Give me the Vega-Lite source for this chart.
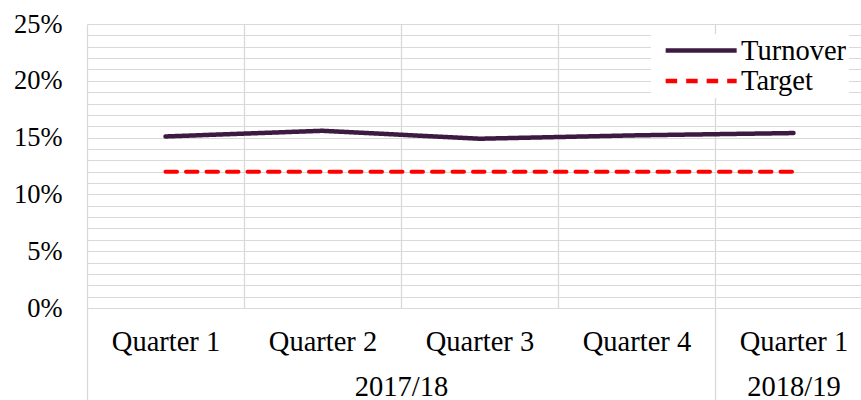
{
  "$schema": "https://vega.github.io/schema/vega-lite/v6.json",
  "autosize": {"type": "none"},
  "width": 774,
  "height": 284,
  "padding": {"left": 87, "top": 24, "right": 0, "bottom": 92},
  "background": "white",
  "config": {"font": "Liberation Serif", "view": {"stroke": null}},
  "data": {
    "values": [
      {"year": "2017/18", "quarter": "Quarter 1", "pos": 0.5, "series": "Turnover", "value": 0.151},
      {"year": "2017/18", "quarter": "Quarter 2", "pos": 1.5, "series": "Turnover", "value": 0.156},
      {"year": "2017/18", "quarter": "Quarter 3", "pos": 2.5, "series": "Turnover", "value": 0.149},
      {"year": "2017/18", "quarter": "Quarter 4", "pos": 3.5, "series": "Turnover", "value": 0.152},
      {"year": "2018/19", "quarter": "Quarter 1", "pos": 4.5, "series": "Turnover", "value": 0.154},
      {"year": "2017/18", "quarter": "Quarter 1", "pos": 0.5, "series": "Target", "value": 0.12},
      {"year": "2017/18", "quarter": "Quarter 2", "pos": 1.5, "series": "Target", "value": 0.12},
      {"year": "2017/18", "quarter": "Quarter 3", "pos": 2.5, "series": "Target", "value": 0.12},
      {"year": "2017/18", "quarter": "Quarter 4", "pos": 3.5, "series": "Target", "value": 0.12},
      {"year": "2018/19", "quarter": "Quarter 1", "pos": 4.5, "series": "Target", "value": 0.12}
    ]
  },
  "encoding": {
    "y": {
      "field": "value",
      "type": "quantitative",
      "scale": {"domain": [0, 0.25], "nice": false, "zero": true},
      "axis": {
        "title": null,
        "values": [0, 0.01, 0.02, 0.03, 0.04, 0.05, 0.06, 0.07, 0.08, 0.09, 0.1, 0.11, 0.12, 0.13, 0.14, 0.15, 0.16, 0.17, 0.18, 0.19, 0.2, 0.21, 0.22, 0.23, 0.24, 0.25],
        "grid": true,
        "gridColor": "#d9d9d9",
        "gridWidth": 1.2,
        "ticks": false,
        "domain": false,
        "labelExpr": "round(datum.value*100) % 5 == 0 ? round(datum.value*100) + '%' : ''",
        "labelFont": "Liberation Serif",
        "labelFontSize": 26.5,
        "labelColor": "black",
        "labelPadding": 25,
        "labelFlush": false,
        "labelOverlap": false
      }
    },
    "color": {
      "field": "series",
      "type": "nominal",
      "scale": {"domain": ["Turnover", "Target"], "range": ["#3d1a42", "#ff0000"]},
      "legend": {
        "title": null,
        "orient": "none",
        "legendX": 564,
        "legendY": 10,
        "fillColor": "white",
        "padding": 2,
        "symbolOffset": 10,
        "symbolType": "M-1,0H5",
        "symbolSize": 560,
        "symbolStrokeWidth": 4.5,
        "labelFont": "Liberation Serif",
        "labelFontSize": 28.5,
        "labelColor": "black",
        "labelOffset": 49,
        "labelLimit": 0,
        "rowPadding": 1.5
      }
    },
    "strokeDash": {
      "field": "series",
      "type": "nominal",
      "scale": {"domain": ["Turnover", "Target"], "range": [[1, 0], [11.5, 9]]},
      "legend": {
        "title": null,
        "orient": "none",
        "legendX": 564,
        "legendY": 10,
        "fillColor": "white",
        "padding": 2,
        "symbolOffset": 10,
        "symbolType": "M-1,0H5",
        "symbolSize": 560,
        "symbolStrokeWidth": 4.5,
        "labelFont": "Liberation Serif",
        "labelFontSize": 28.5,
        "labelColor": "black",
        "labelOffset": 49,
        "labelLimit": 0,
        "rowPadding": 1.5
      }
    }
  },
  "layer": [
    {
      "transform": [{"filter": "datum.series == 'Turnover'"}],
      "mark": {"type": "line", "strokeWidth": 4.5, "strokeCap": "round"},
      "encoding": {
        "x": {
          "field": "pos",
          "type": "quantitative",
          "scale": {"domain": [0, 4.93], "nice": false, "zero": false},
          "axis": {
            "orient": "bottom",
            "title": null,
            "values": [0, 1, 2, 3, 4],
            "grid": true,
            "gridColor": "#d9d9d9",
            "gridWidth": 1.3,
            "ticks": true,
            "tickSize": 92,
            "tickColor": "#d9d9d9",
            "tickWidth": 1.3,
            "tickOpacity": {"condition": {"test": "datum.value == 0 || datum.value == 4", "value": 1}, "value": 0},
            "labels": false,
            "domain": false
          }
        }
      }
    },
    {
      "transform": [{"filter": "datum.series == 'Target'"}],
      "mark": {"type": "line", "strokeWidth": 4, "strokeCap": "round"},
      "encoding": {
        "x": {
          "field": "pos",
          "type": "quantitative",
          "scale": {"domain": [0, 4.93], "nice": false, "zero": false},
          "axis": {
            "orient": "bottom",
            "title": null,
            "values": [0.5, 1.5, 2, 2.5, 3.5, 4.5],
            "grid": false,
            "ticks": false,
            "domain": false,
            "labelExpr": "datum.value == 2 ? ['', '2017/18'] : (datum.value == 4.5 ? ['Quarter 1', '2018/19'] : 'Quarter ' + (floor(datum.value) + 1))",
            "labelFont": "Liberation Serif",
            "labelFontSize": 28.5,
            "labelColor": "black",
            "labelBaseline": "top",
            "labelLineHeight": 45,
            "labelPadding": 19,
            "labelOverlap": false,
            "labelFlush": false,
            "labelBound": false
          }
        }
      }
    }
  ],
  "resolve": {"axis": {"x": "independent"}}
}
